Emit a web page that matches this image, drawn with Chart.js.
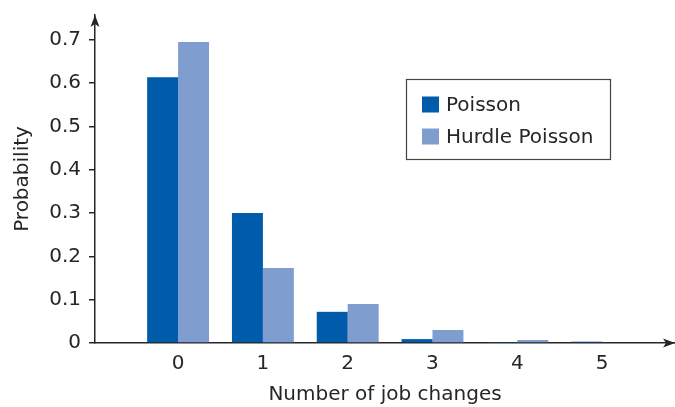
<!DOCTYPE html>
<html>
<head>
<meta charset="utf-8">
<script src="https://cdn.jsdelivr.net/npm/chart.js@4/dist/chart.umd.min.js"></script>
<style>
  html, body { margin: 0; padding: 0; background: #ffffff; }
  #wrap { width: 675px; height: 407px; }
</style>
</head>
<body>
<div id="wrap"><canvas id="c" width="675" height="407"></canvas></div>
<script>
const categories = [0, 1, 2, 3, 4, 5];
const poisson = [0.614, 0.300, 0.072, 0.009, 0.001, 0.003];
const hurdlePoisson = [0.695, 0.173, 0.090, 0.030, 0.007, 0.000];
const yTickValues = [0, 0.1, 0.2, 0.3, 0.4, 0.5, 0.6, 0.7];
const seriesNames = ['Poisson', 'Hurdle Poisson'];

const TEXT = '#262626';
const AXIS = '#262626';
const FONT = 'DejaVu Sans';

const arrowsAndLegend = {
  id: 'arrowsAndLegend',
  afterDraw(chart) {
    const ctx = chart.ctx;
    const xs = chart.scales.x, ys = chart.scales.y;
    const x0 = ys.right, y0 = xs.top;
    ctx.save();
    ctx.fillStyle = AXIS;
    // y arrow
    const ty = ys.top;
    ctx.beginPath();
    ctx.moveTo(x0, ty);
    ctx.lineTo(x0 - 4.5, ty + 12);
    ctx.lineTo(x0, ty + 9);
    ctx.lineTo(x0 + 4.5, ty + 12);
    ctx.closePath();
    ctx.fill();
    // x arrow
    const tx = xs.right;
    ctx.beginPath();
    ctx.moveTo(tx, y0);
    ctx.lineTo(tx - 12, y0 - 4.5);
    ctx.lineTo(tx - 9, y0);
    ctx.lineTo(tx - 12, y0 + 4.5);
    ctx.closePath();
    ctx.fill();
    // legend box
    ctx.strokeStyle = '#444';
    ctx.lineWidth = 1.2;
    ctx.strokeRect(406.5, 79.5, 204, 80);
    ctx.font = '20px "' + FONT + '"';
    ctx.textBaseline = 'middle';
    ctx.textAlign = 'left';
    chart.data.datasets.forEach((ds, i) => {
      const cy = 104.5 + i * 32;
      ctx.fillStyle = ds.backgroundColor;
      ctx.fillRect(422, cy - 8, 17, 16);
      ctx.fillStyle = TEXT;
      ctx.fillText(ds.label, 446, cy + 1);
    });
    ctx.restore();
  }
};

new Chart(document.getElementById('c'), {
  type: 'bar',
  data: {
    labels: categories,
    datasets: [
      { label: seriesNames[0], data: poisson, backgroundColor: '#005BAA', borderWidth: 0 },
      { label: seriesNames[1], data: hurdlePoisson, backgroundColor: '#7F9DCE', borderWidth: 0 }
    ]
  },
  options: {
    responsive: false,
    animation: false,
    layout: { padding: { top: 15, right: 0, left: 0, bottom: 0 } },
    categoryPercentage: 0.73,
    barPercentage: 1.0,
    plugins: { legend: { display: false }, tooltip: { enabled: false } },
    scales: {
      x: {
        type: 'linear',
        offset: false,
        min: -0.98,
        max: 5.86,
        afterBuildTicks: (s) => { s.ticks = categories.map(v => ({ value: v })); },
        afterFit: (s) => { s.height = 64; s.paddingLeft = 0; s.paddingRight = 0; },
        grid: { display: false, offset: false },
        border: { display: true, color: AXIS, width: 1.5 },
        ticks: { color: TEXT, font: { family: FONT, size: 20 }, padding: 1, maxRotation: 0, autoSkip: false },
        title: { display: true, text: 'Number of job changes', color: TEXT, font: { family: FONT, size: 20 }, padding: { top: 0, bottom: 0 } }
      },
      y: {
        min: 0,
        max: 0.7575,
        afterBuildTicks: (s) => { s.ticks = yTickValues.map(v => ({ value: v })); },
        afterFit: (s) => { s.width = 95; s.paddingTop = 0; s.paddingBottom = 0; },
        grid: { display: true, drawOnChartArea: false, drawTicks: true, tickLength: 6, color: AXIS, lineWidth: 1.5 },
        border: { display: true, color: AXIS, width: 1.5 },
        ticks: { color: TEXT, font: { family: FONT, size: 20 }, padding: 8 },
        title: { display: true, text: 'Probability', color: TEXT, font: { family: FONT, size: 20 }, padding: { top: 11, bottom: 0 } }
      }
    }
  },
  plugins: [arrowsAndLegend]
});
</script>
</body>
</html>
